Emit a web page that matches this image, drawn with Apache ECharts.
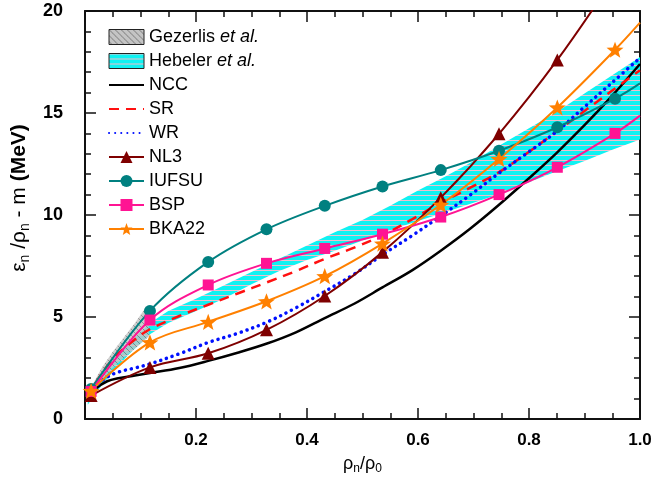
<!DOCTYPE html>
<html>
<head>
<meta charset="utf-8">
<script src="https://cdn.jsdelivr.net/npm/echarts@6/dist/echarts.min.js"></script>
<style>
html, body { margin: 0; padding: 0; background: #fff; }
#main { width: 655px; height: 480px; }
</style>
</head>
<body>
<div id="main"></div>
<script>
// x positions of the model points (rho_n / rho_0)
const xMarks = [0.011, 0.117, 0.222, 0.327, 0.432, 0.536, 0.641, 0.746, 0.851, 0.955];
const nl3   = [1.15, 2.53, 3.22, 4.37, 6.03, 8.18, 10.85, 13.98, 17.6, 21.7];
const iufsu = [1.47, 5.3, 7.7, 9.3, 10.45, 11.4, 12.2, 13.15, 14.3, 15.7];
const bsp   = [1.35, 4.85, 6.57, 7.63, 8.36, 9.06, 9.9, 11.0, 12.34, 14.0];
const bka22 = [1.38, 3.76, 4.76, 5.77, 7.0, 8.6, 10.5, 12.75, 15.27, 18.1];
// values where the lines end at rho_n/rho_0 = 1
const endX = 1.0;
const iufsuEnd = 16.45;
const bspEnd = 14.87;
const bka22End = 19.43;

// microscopic curves (no markers)
const xCurve = [0.005, 0.02, 0.04, 0.06, 0.09, 0.117, 0.17, 0.222, 0.275, 0.328, 0.38, 0.432, 0.485, 0.536, 0.59, 0.641, 0.695, 0.746, 0.8, 0.85, 0.9, 0.95, 1.0];
const ncc = [0.95, 1.5, 1.85, 2.0, 2.13, 2.25, 2.5, 2.85, 3.25, 3.7, 4.25, 4.95, 5.65, 6.45, 7.3, 8.25, 9.35, 10.5, 11.8, 13.05, 14.4, 15.85, 17.4];
const sr  = [1.0, 1.8, 2.6, 3.2, 3.9, 4.4, 5.05, 5.6, 6.15, 6.7, 7.25, 7.85, 8.4, 9.0, 9.8, 10.6, 11.35, 12.1, 13.1, 14.1, 15.1, 16.1, 17.1];
const wr  = [1.0, 1.6, 2.05, 2.3, 2.5, 2.7, 3.2, 3.75, 4.2, 4.75, 5.45, 6.25, 7.1, 8.05, 9.0, 9.95, 11.0, 12.05, 13.1, 14.1, 15.3, 16.5, 17.7];

// Hebeler et al. band
const hebX  = [0.005, 0.02, 0.05, 0.08, 0.117, 0.15, 0.2, 0.25, 0.3, 0.35, 0.4, 0.45, 0.5, 0.55, 0.6, 0.65, 0.7, 0.75, 0.8, 0.85, 0.9, 0.95, 1.0];
const hebLo = [0.7, 1.3, 2.3, 3.2, 4.15, 4.7, 5.3, 5.9, 6.6, 7.25, 7.8, 8.25, 8.75, 9.25, 9.7, 10.15, 10.6, 11.05, 11.6, 12.15, 12.65, 13.2, 13.7];
const hebHi = [0.9, 1.6, 2.7, 3.7, 4.7, 5.3, 5.9, 6.55, 7.2, 7.85, 8.5, 9.15, 9.75, 10.45, 11.2, 11.9, 12.65, 13.45, 14.25, 15.05, 15.95, 16.85, 17.75];

// Gezerlis et al. band
const gezX  = [0.012, 0.03, 0.05, 0.07, 0.09, 0.105, 0.115];
const gezLo = [1.3, 1.9, 2.5, 3.0, 3.45, 3.8, 4.05];
const gezHi = [1.6, 2.5, 3.3, 4.0, 4.7, 5.3, 5.6];

const xTicks = [0.2, 0.4, 0.6, 0.8, 1.0];
const yTicks = [0, 5, 10, 15, 20];

const FONT = "Liberation Sans, Arial, sans-serif";
const STAR = "path://M0,-10 L2.47,-3.4 L9.51,-3.09 L3.99,1.3 L5.88,8.09 L0,4.2 L-5.88,8.09 L-3.99,1.3 L-9.51,-3.09 L-2.47,-3.4 Z";

function hatch(bg, stroke, kind) {
    const s = kind === "h" ? 5 : 6;
    const c = document.createElement("canvas");
    c.width = s; c.height = s;
    const ctx = c.getContext("2d");
    ctx.fillStyle = bg;
    ctx.fillRect(0, 0, s, s);
    ctx.strokeStyle = stroke;
    ctx.lineWidth = 1;
    ctx.beginPath();
    if (kind === "h") {
        ctx.moveTo(0, 0.5); ctx.lineTo(s, 0.5);
    } else {
        ctx.moveTo(-1, -1); ctx.lineTo(s + 1, s + 1);
        ctx.moveTo(-1, s - 1); ctx.lineTo(1, s + 1);
        ctx.moveTo(s - 1, -1); ctx.lineTo(s + 1, 1);
    }
    ctx.stroke();
    return { image: c, repeat: "repeat" };
}

const hebFill = hatch("#10f2f2", "#f0bfcd", "h");
const gezFill = hatch("#c4c4c4", "#7a7a7a", "d");

function band(name, xs, lo, hi, fill, z, opacity) {
    return {
        name: name,
        type: "custom",
        z: z,
        silent: true,
        data: xs.map((x, i) => [x, lo[i], hi[i]]),
        encode: { x: 0, y: [1, 2] },
        renderItem(params, api) {
            if (params.dataIndex !== 0) return null;
            const up = xs.map((x, i) => api.coord([x, hi[i]]));
            const dn = xs.map((x, i) => api.coord([x, lo[i]])).reverse();
            return {
                type: "polygon",
                shape: { points: up.concat(dn) },
                style: { fill: fill, opacity: opacity }
            };
        }
    };
}

function markLine(name, ys, color, symbol, size, end) {
    const data = xMarks.map((x, i) => [x, ys[i]]);
    if (end !== undefined) data.push({ value: [endX, end], symbol: "none" });
    return {
        name: name,
        type: "line",
        z: 5,
        smooth: 0.35,
        data: data,
        symbol: symbol,
        symbolSize: size,
        symbolKeepAspect: true,
        lineStyle: { color: color, width: 2 },
        itemStyle: { color: color }
    };
}

function curve(name, ys, color, width, type, cap) {
    return {
        name: name,
        type: "line",
        z: 4,
        smooth: 0.35,
        showSymbol: false,
        symbol: "none",
        data: xCurve.map((x, i) => [x, ys[i]]),
        lineStyle: { color: color, width: width, type: type, cap: cap || "butt" },
        itemStyle: { color: color }
    };
}

const noMark = { color: "rgba(0,0,0,0)", borderWidth: 0 };

const axisCommon = {
    axisLine: { show: true, onZero: false, lineStyle: { color: "#111", width: 2 } },
    axisTick: { show: true, inside: true, length: 11, lineStyle: { color: "#111", width: 1.5 } },
    minorTick: { show: true, length: 6, lineStyle: { color: "#111", width: 1.5 } },
    splitLine: { show: false }
};

const chart = echarts.init(document.getElementById("main"));
chart.setOption({
    animation: false,
    backgroundColor: "#fff",
    grid: { left: 85, right: 15, top: 11, bottom: 60 },
    legend: {
        orient: "vertical",
        left: 103,
        top: 23,
        itemWidth: 35,
        itemHeight: 15,
        itemGap: 6,
        textStyle: {
            fontFamily: FONT, fontSize: 18, color: "#000", lineHeight: 18,
            rich: { i: { fontFamily: FONT, fontSize: 18, fontStyle: "italic", color: "#000" } }
        },
        formatter: n => n === "Gezerlis" || n === "Hebeler" ? n + " {i|et al.}" : n,
        data: [
            { name: "Gezerlis", icon: "rect", itemStyle: { color: gezFill, borderColor: "#222", borderWidth: 1 } },
            { name: "Hebeler", icon: "rect", itemStyle: { color: hebFill, borderColor: "#222", borderWidth: 1 } },
            { name: "NCC", itemStyle: noMark },
            { name: "SR", itemStyle: noMark },
            { name: "WR", itemStyle: noMark },
            "NL3", "IUFSU", "BSP", "BKA22"
        ]
    },
    xAxis: [
        Object.assign({}, axisCommon, {
            type: "value", position: "bottom", min: 0, max: 1, interval: 0.2,
            minorTick: Object.assign({}, axisCommon.minorTick, { splitNumber: 4 }),
            axisLabel: {
                margin: 13, fontFamily: FONT, fontSize: 17, fontWeight: "bold", color: "#000",
                formatter: v => xTicks.some(t => Math.abs(t - v) < 1e-6) ? v.toFixed(1) : ""
            },
            name: "{a|ρ}{s|n}{a|/ρ}{s|0}",
            nameLocation: "middle",
            nameGap: 34,
            nameTextStyle: {
                rich: {
                    a: { fontFamily: FONT, fontSize: 18, color: "#000", lineHeight: 22 },
                    s: { fontFamily: FONT, fontSize: 12, color: "#000", lineHeight: 12, verticalAlign: "bottom" }
                }
            }
        }),
        Object.assign({}, axisCommon, {
            type: "value", position: "top", min: 0, max: 1, interval: 0.2,
            minorTick: Object.assign({}, axisCommon.minorTick, { splitNumber: 4 }),
            axisLabel: { show: false }
        })
    ],
    yAxis: [
        Object.assign({}, axisCommon, {
            type: "value", position: "left", min: 0, max: 20, interval: 5,
            minorTick: Object.assign({}, axisCommon.minorTick, { splitNumber: 5 }),
            axisLabel: {
                margin: 22, fontFamily: FONT, fontSize: 18, fontWeight: "bold", color: "#000",
                formatter: v => yTicks.indexOf(v) >= 0 ? String(v) : ""
            },
            name: "{a|ε}{s|n}{a| /ρ}{s|n}{a| - m }{b|(MeV)}",
            nameLocation: "middle",
            nameGap: 44,
            nameTextStyle: {
                padding: [0, 0, 0, 34],
                rich: {
                    a: { fontFamily: FONT, fontSize: 21, color: "#000", lineHeight: 26 },
                    s: { fontFamily: FONT, fontSize: 14, color: "#000", lineHeight: 14, verticalAlign: "bottom" },
                    b: { fontFamily: FONT, fontSize: 21, fontWeight: "bold", color: "#000", lineHeight: 26 }
                }
            }
        }),
        Object.assign({}, axisCommon, {
            type: "value", position: "right", min: 0, max: 20, interval: 5,
            minorTick: Object.assign({}, axisCommon.minorTick, { splitNumber: 5 }),
            axisLabel: { show: false }
        })
    ],
    series: [
        band("Hebeler", hebX, hebLo, hebHi, hebFill, 1, 1),
        band("Gezerlis", gezX, gezLo, gezHi, gezFill, 2, 0.8),
        curve("NCC", ncc, "#000000", 2.5, "solid"),
        curve("SR", sr, "#ff1010", 2.5, [10, 7]),
        curve("WR", wr, "#0010ff", 3.5, [0.1, 6], "round"),
        markLine("NL3", nl3, "#7f0000", "triangle", 13),
        markLine("IUFSU", iufsu, "#008080", "circle", 12, iufsuEnd),
        markLine("BSP", bsp, "#ff1493", "rect", 11, bspEnd),
        markLine("BKA22", bka22, "#ff8000", STAR, 17, bka22End)
    ]
});
</script>
</body>
</html>
